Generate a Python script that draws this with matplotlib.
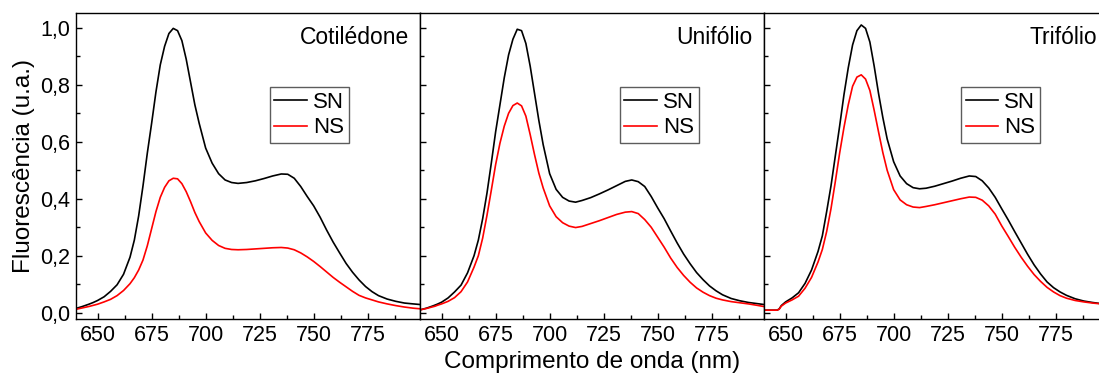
#!/usr/bin/env python3
import matplotlib
matplotlib.use("Agg")
import matplotlib.pyplot as plt
from matplotlib.ticker import MultipleLocator, FuncFormatter

plt.rcParams['font.family'] = ['Liberation Sans', 'DejaVu Sans']

# comprimento de onda (nm), common to every panel
wavelength = [640, 643, 646, 647, 648, 650, 653, 656, 659, 662, 665, 667, 669,
              671, 673, 675, 677, 679, 681, 683, 685, 687, 689, 691, 693, 695,
              697, 700, 703, 706, 709, 712, 715, 719, 723, 727, 731, 735, 738,
              741, 744, 747, 750, 753, 756, 759, 762, 765, 768, 771, 774, 777,
              780, 784, 788, 792, 796, 799]

panel_names = ["Cotilédone", "Unifólio", "Trifólio"]
series_names = ["SN", "NS"]

cot_sn = [0.015, 0.022, 0.030, 0.033, 0.036, 0.043, 0.056, 0.075, 0.098, 0.135,
          0.195, 0.255, 0.340, 0.445, 0.560, 0.665, 0.775, 0.870, 0.935, 0.980,
          0.998, 0.990, 0.955, 0.890, 0.810, 0.730, 0.665, 0.578, 0.525, 0.488,
          0.466, 0.457, 0.454, 0.457, 0.463, 0.471, 0.480, 0.487, 0.486, 0.472,
          0.443, 0.408, 0.375, 0.335, 0.290, 0.248, 0.210, 0.173, 0.142, 0.115,
          0.092, 0.074, 0.060, 0.048, 0.040, 0.034, 0.031, 0.029]
cot_ns = [0.012, 0.017, 0.022, 0.024, 0.026, 0.030, 0.038, 0.047, 0.060, 0.078,
          0.102, 0.123, 0.150, 0.185, 0.235, 0.295, 0.355, 0.405, 0.440, 0.463,
          0.472, 0.470, 0.453, 0.425, 0.390, 0.352, 0.320, 0.280, 0.254, 0.236,
          0.226, 0.222, 0.221, 0.222, 0.224, 0.226, 0.228, 0.229, 0.227, 0.221,
          0.210, 0.196, 0.180, 0.162, 0.143, 0.124, 0.107, 0.091, 0.075, 0.061,
          0.052, 0.045, 0.038, 0.031, 0.025, 0.020, 0.016, 0.014]

uni_sn = [0.010, 0.016, 0.024, 0.027, 0.030, 0.037, 0.052, 0.073, 0.097, 0.140,
          0.200, 0.255, 0.330, 0.420, 0.525, 0.635, 0.730, 0.825, 0.905, 0.960,
          0.995, 0.990, 0.945, 0.865, 0.770, 0.675, 0.590, 0.488, 0.433, 0.405,
          0.392, 0.388, 0.394, 0.404, 0.417, 0.431, 0.446, 0.461, 0.466, 0.460,
          0.443, 0.408, 0.368, 0.330, 0.287, 0.245, 0.206, 0.172, 0.141, 0.116,
          0.094, 0.077, 0.063, 0.050, 0.042, 0.036, 0.032, 0.029]
uni_ns = [0.010, 0.015, 0.021, 0.023, 0.026, 0.031, 0.040, 0.053, 0.074, 0.108,
          0.160, 0.200, 0.262, 0.342, 0.430, 0.520, 0.595, 0.655, 0.700, 0.727,
          0.736, 0.726, 0.690, 0.625, 0.555, 0.490, 0.438, 0.375, 0.337, 0.316,
          0.304, 0.299, 0.303, 0.313, 0.323, 0.334, 0.345, 0.353, 0.355, 0.348,
          0.327, 0.300, 0.265, 0.230, 0.192, 0.159, 0.131, 0.107, 0.087, 0.072,
          0.060, 0.051, 0.045, 0.039, 0.035, 0.031, 0.026, 0.022]

tri_sn = [0.009, 0.009, 0.009, 0.013, 0.025, 0.038, 0.052, 0.070, 0.103, 0.150,
          0.215, 0.270, 0.355, 0.445, 0.550, 0.655, 0.765, 0.860, 0.940, 0.990,
          1.010, 0.998, 0.950, 0.865, 0.770, 0.685, 0.610, 0.530, 0.480, 0.453,
          0.439, 0.435, 0.437, 0.444, 0.453, 0.462, 0.472, 0.480, 0.478, 0.463,
          0.438, 0.405, 0.365, 0.326, 0.285, 0.245, 0.205, 0.168, 0.136, 0.108,
          0.088, 0.073, 0.061, 0.049, 0.041, 0.036, 0.032, 0.030]
tri_ns = [0.009, 0.009, 0.009, 0.012, 0.023, 0.034, 0.045, 0.058, 0.086, 0.124,
          0.178, 0.222, 0.285, 0.365, 0.460, 0.560, 0.650, 0.730, 0.795, 0.827,
          0.835, 0.820, 0.780, 0.710, 0.635, 0.562, 0.500, 0.432, 0.396, 0.379,
          0.371, 0.369, 0.373, 0.379, 0.386, 0.393, 0.400, 0.406, 0.405, 0.395,
          0.375, 0.346, 0.305, 0.268, 0.230, 0.195, 0.163, 0.134, 0.110, 0.089,
          0.073, 0.060, 0.051, 0.043, 0.038, 0.034, 0.031, 0.029]

panel_data = [(cot_sn, cot_ns), (uni_sn, uni_ns), (tri_sn, tri_ns)]
colors = ["black", "#ff0000"]

W, H = 1099.0, 376.0
fig = plt.figure(figsize=(W / 100, H / 100), dpi=100)

ax_w = 344
lefts = [76, 420, 764]
bottom, top = 319, 13
legend_x = [0.564, 0.581, 0.573]

comma = FuncFormatter(lambda v, p: ("%.1f" % v).replace(".", ","))

axes = []
for i, (left, name, data) in enumerate(zip(lefts, panel_names, panel_data)):
    ax = fig.add_axes([left / W, 1 - bottom / H, ax_w / W, (bottom - top) / H])
    for vals, col, lab in zip(data, colors, series_names):
        ax.plot(wavelength, vals, color=col, lw=1.2, label=lab)
    ax.set_xlim(640, 799.2)
    ax.set_ylim(-0.022, 1.052)
    ax.xaxis.set_major_locator(MultipleLocator(25))
    ax.xaxis.set_minor_locator(MultipleLocator(12.5))
    ax.yaxis.set_major_locator(MultipleLocator(0.2))
    ax.yaxis.set_minor_locator(MultipleLocator(0.1))
    ax.yaxis.set_major_formatter(comma)
    ax.tick_params(which="both", direction="in", top=False, right=False,
                   labelsize=15.5, width=1)
    ax.tick_params(which="major", length=4.5, pad=4)
    ax.tick_params(which="minor", length=3)
    if i > 0:
        ax.tick_params(axis="y", labelleft=False)
    for sp in ax.spines.values():
        sp.set_linewidth(1.0)
    ax.text(1 - 11.0 / ax_w, 0.92, name, transform=ax.transAxes,
            ha="right", va="center", fontsize=16.5)
    ax.legend(loc="upper left", bbox_to_anchor=(legend_x[i], 0.757),
              fontsize=16, frameon=True, fancybox=False, edgecolor="#333333",
              handlelength=1.45, handletextpad=0.3, borderpad=0.2,
              labelspacing=0.2, borderaxespad=0, handleheight=0.6)
    ax.get_legend().get_frame().set_linewidth(1.0)
    axes.append(ax)

axes[0].set_ylabel("Fluorescência (u.a.)", fontsize=17.5, labelpad=4)
axes[1].set_xlabel("Comprimento de onda (nm)", fontsize=17.5, labelpad=4)

fig.savefig("out.png", dpi=100)
